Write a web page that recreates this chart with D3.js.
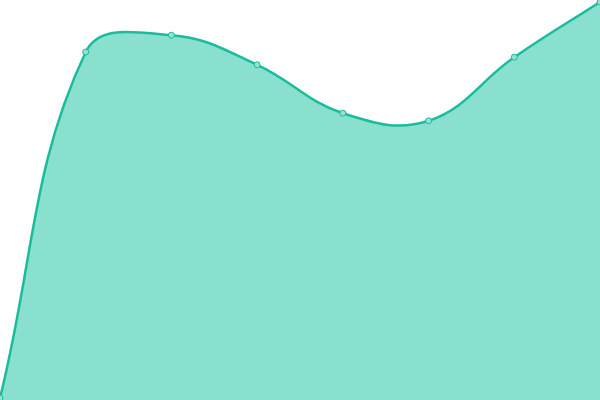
<!DOCTYPE html>
<html>
<head>
<meta charset="utf-8">
<script src="https://cdn.jsdelivr.net/npm/d3@7"></script>
<style>
  html, body { margin: 0; padding: 0; background: #fff; }
  svg { display: block; }
</style>
</head>
<body>
<script>
/* ------------------------------- data ------------------------------- */
const labels = ["A", "B", "C", "D", "E", "F", "G", "H"];
const values = [0.5, 87, 91.2, 83.8, 71.7, 69.8, 85.7, 99.5];

/* ---------------------------- document size ---------------------------- */
const width = 600, height = 400, tension = 0.4;

const svg = d3.select("body").append("svg")
    .attr("width", width)
    .attr("height", height);

const x = d3.scalePoint().domain(labels).range([0, width]);
const y = d3.scaleLinear().domain([0, 100]).range([height, 0]);

/* distance-weighted spline curve (same idea as chart.js bezier tension) */
function SplineCurve(context) { this._context = context; }
SplineCurve.prototype = {
    areaStart: function() { this._line = 0; },
    areaEnd: function() { this._line = NaN; },
    lineStart: function() { this._pts = []; },
    point: function(px, py) { this._pts.push([+px, +py]); },
    lineEnd: function() {
        var p = this._pts, n = p.length, ctx = this._context;
        if (n) {
            if (this._line) ctx.lineTo(p[0][0], p[0][1]); else ctx.moveTo(p[0][0], p[0][1]);
            var cps = p.map(function(cur, i) {
                var prev = p[i - 1] || cur, next = p[i + 1] || cur;
                var d01 = Math.hypot(cur[0] - prev[0], cur[1] - prev[1]);
                var d12 = Math.hypot(next[0] - cur[0], next[1] - cur[1]);
                var s01 = d01 / (d01 + d12) || 0, s12 = d12 / (d01 + d12) || 0;
                var fa = tension * s01, fb = tension * s12;
                var cl = (v) => [Math.max(0, Math.min(width, v[0])), Math.max(0, Math.min(height, v[1]))];
                return {
                    prev: cl([cur[0] - fa * (next[0] - prev[0]), cur[1] - fa * (next[1] - prev[1])]),
                    next: cl([cur[0] + fb * (next[0] - prev[0]), cur[1] + fb * (next[1] - prev[1])])
                };
            });
            for (var i = 1; i < n; i++) {
                ctx.bezierCurveTo(cps[i - 1].next[0], cps[i - 1].next[1],
                    cps[i].prev[0], cps[i].prev[1], p[i][0], p[i][1]);
            }
        }
        if (this._line || (this._line !== 0 && n === 1)) ctx.closePath();
        this._line = 1 - this._line;
    }
};
const curve = (context) => new SplineCurve(context);

const data = labels.map((l, i) => ({ label: l, value: values[i] }));

const area = d3.area()
    .x(d => x(d.label))
    .y0(height)
    .y1(d => y(d.value))
    .curve(curve);

const line = d3.line()
    .x(d => x(d.label))
    .y(d => y(d.value))
    .curve(curve);

svg.append("path").datum(data)
    .attr("d", area)
    .attr("fill", "#89e0cf");

svg.append("path").datum(data)
    .attr("d", line)
    .attr("fill", "none")
    .attr("stroke", "#1abc9c")
    .attr("stroke-width", 2.5);

svg.selectAll("circle").data(data).enter().append("circle")
    .attr("cx", d => x(d.label))
    .attr("cy", d => y(d.value))
    .attr("r", 3)
    .attr("fill", "#8fe3d2")
    .attr("stroke", "#1abc9c")
    .attr("stroke-width", 1);
</script>
</body>
</html>
